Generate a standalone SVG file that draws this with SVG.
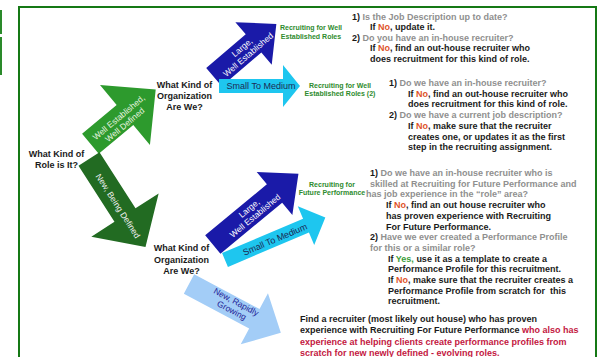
<svg xmlns="http://www.w3.org/2000/svg" width="599" height="357" viewBox="0 0 599 357">
<style>
.t{font-family:"Liberation Sans",Arial,sans-serif;font-weight:bold;font-size:9px;fill:#1a1a1a}
.c{text-anchor:middle}
.g{fill:#8f8f8f}
.no{fill:#e0532a}
.yes{fill:#3a9d3a}
.red{fill:#c3173f}
.lbl{font-family:"Liberation Sans",Arial,sans-serif;font-weight:bold;font-size:7px;fill:#2e8b2e;text-anchor:middle}
.at{font-family:"Liberation Sans",Arial,sans-serif;font-size:8.5px;text-anchor:middle}
</style>
<rect width="599" height="357" fill="#ffffff"/>
<rect x="0" y="10" width="2" height="24" fill="#2a8a2a"/>
<rect x="0" y="37" width="2" height="38" fill="#2a8a2a"/>
<path d="M19,362 L19,7 L596,7 L596,362" fill="none" stroke="#157815" stroke-width="2"/>

<g id="connectors">
  <g id="arrow-well-established">
    <path transform="translate(90.4,143.8) rotate(-39.8)" d="M0,-13 L45,-13 L45,-39 L85,0 L45,39 L45,13 L0,13 Z" fill="#2d9a2d"/>
    <text class="at" fill="#e9f5e0" transform="translate(121.7,121) rotate(-40)"><tspan x="0" y="-1.7">Well Established,</tspan><tspan x="0" y="7.8">Well Defined</tspan></text>
  </g>
  <g id="arrow-new-being-defined">
    <path transform="translate(89,159) rotate(57.3)" d="M0,-12.5 L66.6,-12.5 L66.6,-40 L104.6,0 L66.6,40 L66.6,12.5 L0,12.5 Z" fill="#226b22"/>
    <text class="at" fill="#f0f0f0" transform="translate(118,206) rotate(57.3)" y="3">New, Being Defined</text>
  </g>
  <g id="arrow-large-1">
    <path transform="translate(214,77.2) rotate(-40.5)" d="M0,-12 L52,-12 L52,-28 L82,0 L52,28 L52,12 L0,12 Z" fill="#1a1aa8"/>
    <text class="at" fill="#ffffff" transform="translate(245,51) rotate(-40.5)"><tspan x="0" y="-1.7">Large,</tspan><tspan x="0" y="7.8">Well Established</tspan></text>
  </g>
  <g id="arrow-small-1">
    <path d="M219,79 L283,79 L283,65 L300,86 L283,107 L283,93 L219,93 Z" fill="#1ec6ef"/>
    <text class="at" fill="#1c2a55" style="font-size:9px" x="261" y="89">Small To Medium</text>
  </g>
  <g id="arrow-large-2">
    <path transform="translate(212.8,244.4) rotate(-39.5)" d="M0,-12 L80,-12 L80,-28 L111,0 L80,28 L80,12 L0,12 Z" fill="#1a1aa8"/>
    <text class="at" fill="#ffffff" transform="translate(252,212) rotate(-39.5)"><tspan x="0" y="-1.7">Large,</tspan><tspan x="0" y="7.8">Well Established</tspan></text>
  </g>
  <g id="arrow-small-2">
    <path transform="translate(225,260) rotate(-23)" d="M0,-7.5 L88,-7.5 L88,-21 L109,0 L88,21 L88,7.5 L0,7.5 Z" fill="#1ec6ef"/>
    <text class="at" fill="#1c2a55" style="font-size:9px" transform="translate(275,239.5) rotate(-23)" y="3">Small To Medium</text>
  </g>
  <g id="arrow-new-rapidly">
    <path transform="translate(189,284) rotate(28)" d="M0,-11 L74,-11 L74,-29 L104,0 L74,29 L74,11 L0,11 Z" fill="#a3cdf7"/>
    <text class="at" fill="#1f2396" transform="translate(234,306) rotate(28)"><tspan x="0" y="-1.7">New, Rapidly</tspan><tspan x="0" y="7.8">Growing</tspan></text>
  </g>
</g>

<g id="node-role">
  <text class="t c"><tspan x="56.5" y="157.3">What Kind of</tspan><tspan x="56.5" y="167.8">Role is It?</tspan></text>
</g>
<g id="node-org-1">
  <text class="t c"><tspan x="184.5" y="88.3">What Kind of</tspan><tspan x="184.5" y="99.3">Organization</tspan><tspan x="184.5" y="110.3">Are We?</tspan></text>
</g>
<g id="node-org-2">
  <text class="t c"><tspan x="181.5" y="251.3">What Kind of</tspan><tspan x="181.5" y="262.5">Organization</tspan><tspan x="181.5" y="273.5">Are We?</tspan></text>
</g>

<g id="node-label-1">
  <text class="lbl"><tspan x="311" y="30.2">Recruiting for Well</tspan><tspan x="311" y="38.5">Established Roles</tspan></text>
</g>
<g id="node-label-2">
  <text class="lbl"><tspan x="340" y="87.5">Recruiting for Well</tspan><tspan x="340" y="95.5">Established Roles (2)</tspan></text>
</g>
<g id="node-label-3">
  <text class="lbl"><tspan x="332" y="186.5">Recruiting for</tspan><tspan x="332" y="194.5">Future Performance</tspan></text>
</g>

<g id="node-text-1">
  <text class="t" x="352" y="19.5">1)<tspan class="g"> Is the Job Description up to date?</tspan></text>
  <text class="t" x="370" y="30">If <tspan class="no">No</tspan>, update it.</text>
  <text class="t" x="352" y="40.5">2)<tspan class="g"> Do you have an in-house recruiter?</tspan></text>
  <text class="t" x="370" y="51">If <tspan class="no">No</tspan>, find an out-house recruiter who</text>
  <text class="t" x="370" y="61.5">does recruitment for this kind of role.</text>
</g>

<g id="node-text-2">
  <text class="t" x="389" y="86">1)<tspan class="g"> Do we have an in-house recruiter?</tspan></text>
  <text class="t" x="408" y="96.7">If <tspan class="no">No</tspan>, find an out-house recruiter who</text>
  <text class="t" x="408" y="107.4">does recruitment for this kind of role.</text>
  <text class="t" x="389" y="118.1">2)<tspan class="g"> Do we have a current job description?</tspan></text>
  <text class="t" x="408" y="128.8">If <tspan class="no">No</tspan>, make sure that the recruiter</text>
  <text class="t" x="408" y="139.5">creates one, or updates it as the first</text>
  <text class="t" x="408" y="150.2">step in the recruiting assignment.</text>
</g>

<g id="node-text-3">
  <text class="t" x="370" y="176">1)<tspan class="g"> Do we have an in-house recruiter who is</tspan></text>
  <text class="t g" x="370" y="186.7">skilled at Recruiting for Future Performance and</text>
  <text class="t g" x="366" y="197.4">has job experience in the “role” area?</text>
  <text class="t" x="386" y="208.1">If <tspan class="no">No</tspan>, find an out house recruiter who</text>
  <text class="t" x="386" y="218.8">has proven experience with Recruiting</text>
  <text class="t" x="386" y="229.5">For Future Performance.</text>
  <text class="t" x="370" y="240.2">2)<tspan class="g"> Have we ever created a Performance Profile</tspan></text>
  <text class="t g" x="370" y="250.9">for this or a similar role?</text>
  <text class="t" x="388" y="261.6">If <tspan class="yes">Yes,</tspan> use it as a template to create a</text>
  <text class="t" x="388" y="272.3">Performance Profile for this recruitment.</text>
  <text class="t" x="388" y="283">If <tspan class="no">No</tspan>, make sure that the recruiter creates a</text>
  <text class="t" x="388" y="293.7" xml:space="preserve">Performance Profile from scratch for  this</text>
  <text class="t" x="388" y="304.4">recruitment.</text>
</g>

<g id="node-text-4">
  <text class="t" x="300" y="321.5">Find a recruiter (most likely out house) who has proven</text>
  <text class="t" x="300" y="333">experience with Recruiting For Future Performance <tspan class="red">who also has</tspan></text>
  <text class="t red" x="300" y="344.5">experience at helping clients create performance profiles from</text>
  <text class="t red" x="300" y="356">scratch for new newly defined - evolving roles.</text>
</g>
</svg>
